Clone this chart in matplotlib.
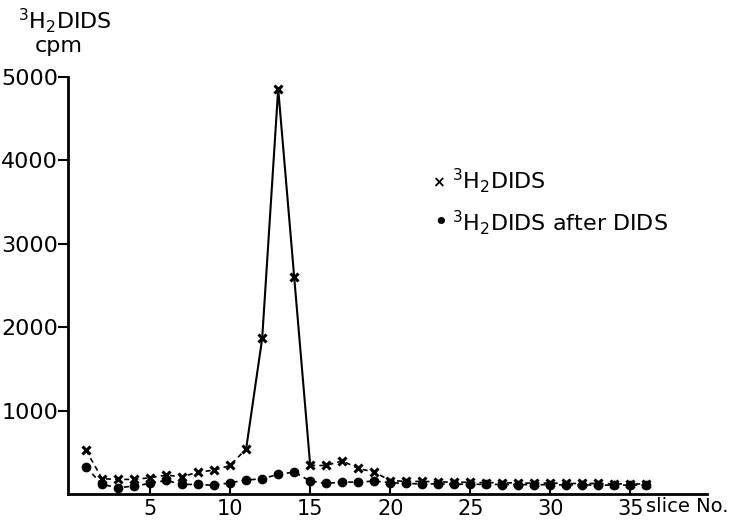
import numpy as np
import matplotlib.pyplot as plt

# slice numbers and counts (cpm)
slices = np.arange(1, 37)
h2dids = [525, 182, 174, 174, 194, 225, 206, 262, 285, 341, 541, 1865, 4860, 2600,
          341, 341, 397, 305, 262, 160, 150, 150, 145, 140, 140, 135, 135, 130, 130,
          130, 125, 125, 125, 120, 120, 120]
after_dids = [321, 114, 74, 94, 126, 162, 114, 114, 102, 134, 166, 182, 234, 262,
              154, 126, 142, 142, 154, 134, 125, 120, 120, 118, 115, 115, 112, 112,
              110, 110, 108, 108, 105, 105, 105, 105]

xticks = [5, 10, 15, 20, 25, 30, 35]
yticks = [1000, 2000, 3000, 4000, 5000]

plt.rcParams['font.family'] = ['DejaVu Sans']
plt.rcParams['mathtext.fontset'] = 'dejavusans'

fig = plt.figure(figsize=(7.29, 5.21), dpi=100)
ax = fig.add_axes([0.0933, 0.052, 0.877, 0.800])

x = np.array(slices)
y1 = np.array(h2dids)
y2 = np.array(after_dids)

# crosses: dashed on the baseline, solid around the peak
ax.plot(x[:11], y1[:11], color='k', lw=1.2, ls=(0, (3, 2.5)))
ax.plot(x[10:15], y1[10:15], color='k', lw=1.5)
ax.plot(x[14:], y1[14:], color='k', lw=1.2, ls=(0, (3, 2.5)))
ax.plot(x, y1, ls='none', marker='x', ms=5.5, mew=2.2, color='k')

# dots
ax.plot(x, y2, color='k', lw=1.2, ls=(0, (3, 2.5)), marker='o', ms=6)

ax.set_xlim(-0.125, 39.8)
ax.set_ylim(0, 5000)
ax.set_xticks(xticks)
ax.set_yticks(yticks)
ax.set_xticklabels([str(t) for t in xticks], fontsize=15)
ax.set_yticklabels([str(t) for t in yticks], fontsize=16)
ax.tick_params(axis='x', direction='in', length=7, width=1.5, pad=4)
ax.tick_params(axis='y', direction='out', length=7, width=1.5, pad=0)
for s in ['top', 'right']:
    ax.spines[s].set_visible(False)
for s in ['left', 'bottom']:
    ax.spines[s].set_linewidth(2)

fig.text(0.886, 0.027, 'slice No.', fontsize=14, ha='left', va='center')
fig.text(0.025, 0.960, r'$^3$H$_2$DIDS', fontsize=16, ha='left', va='center')
fig.text(0.048, 0.912, 'cpm', fontsize=16, ha='left', va='center')

# legend drawn as text
fig.text(0.602, 0.650, '×', fontsize=11, ha='center', va='center', fontweight='bold')
fig.text(0.620, 0.654, r'$^3$H$_2$DIDS', fontsize=16, ha='left', va='center')
fig.text(0.604, 0.572, '•', fontsize=18, ha='center', va='center')
fig.text(0.620, 0.572, r'$^3$H$_2$DIDS after DIDS', fontsize=16, ha='left', va='center')

fig.savefig('out.png', dpi=100)
